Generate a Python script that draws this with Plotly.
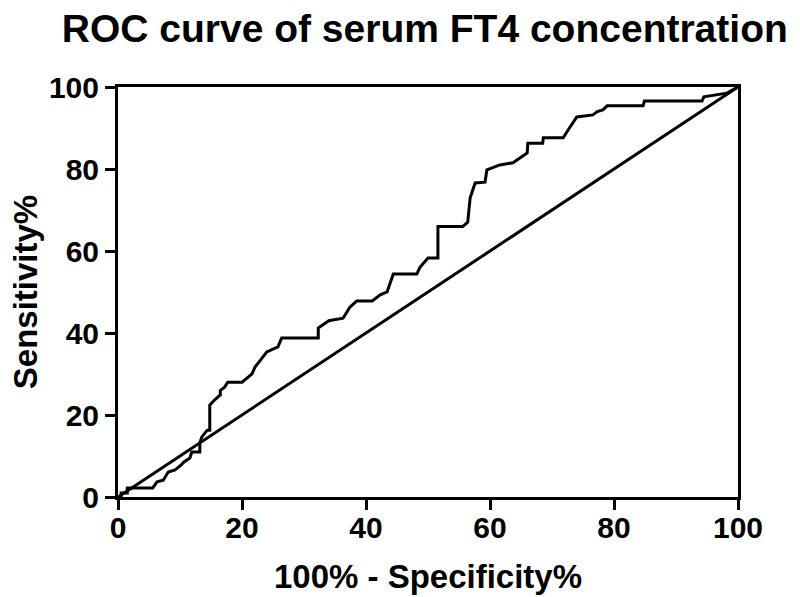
import plotly.graph_objects as go

# ROC points (100% - specificity, sensitivity)
fpr = [0, 0.5, 0.5, 1.5, 1.5, 2.8, 5.6, 6.3, 7.3, 8.1, 9.2, 10.2, 10.6, 11.6, 11.9,
       13.2, 13.2, 13.5, 14.0, 14.4, 14.8, 14.8, 15.6, 16.5, 16.5, 17.2, 17.7,
       20.0, 20.8, 21.6, 22.1, 22.6, 24.0, 25.8, 26.4, 32.3, 32.3, 34.0, 36.3, 37.4,
       38.5, 41.0, 42.3, 43.4, 43.9, 44.4, 48.2, 48.7, 50.0, 51.6, 51.6, 55.6, 56.4,
       56.8, 57.6, 59.2, 59.5, 61.6, 63.7, 64.8, 66.0, 66.1, 68.5, 68.6, 71.8, 72.6,
       73.4, 74.0, 76.6, 77.3, 78.2, 78.9, 84.7, 84.9, 94.2, 94.5, 98.2, 100]
tpr = [0, 0, 1.0, 1.0, 2.2, 2.2, 2.2, 3.7, 4.1, 6.1, 6.6, 7.8, 8.5, 9.5, 11.0,
       11.0, 13.2, 14.6, 15.6, 16.3, 16.3, 22.4, 23.7, 24.9, 26.0, 26.8, 28.0,
       28.0, 29.0, 30.0, 31.7, 32.7, 35.4, 36.6, 38.8, 38.8, 41.2, 43.0, 43.6, 46.3,
       47.8, 47.8, 49.3, 50.0, 52.2, 54.4, 54.4, 56.0, 58.3, 58.3, 66.0, 66.0, 67.0,
       73.0, 76.6, 76.8, 79.8, 81.0, 81.5, 82.7, 83.9, 86.3, 86.3, 87.6, 87.6, 89.5,
       91.2, 92.7, 93.2, 94.0, 94.4, 95.4, 95.4, 96.6, 96.6, 97.6, 98.5, 100]

ref_x = [0, 100]
ref_y = [0, 100]

tick_vals = [0, 20, 40, 60, 80, 100]

FONT = "Liberation Sans, Arial, sans-serif"

fig = go.Figure()
fig.add_trace(go.Scatter(x=fpr, y=tpr, mode="lines",
                         line=dict(color="black", width=3), showlegend=False))
fig.add_trace(go.Scatter(x=ref_x, y=ref_y, mode="lines",
                         line=dict(color="black", width=3), showlegend=False))

axis_style = dict(
    range=[0, 100], tickvals=tick_vals, ticks="outside", ticklen=10, tickwidth=3,
    tickcolor="black", showline=True, linewidth=3, linecolor="black",
    mirror=True, showgrid=False, zeroline=False, automargin=False,
    tickfont=dict(family=FONT, size=30, color="black", weight="bold"),
)

fig.update_layout(
    width=800, height=597,
    paper_bgcolor="white", plot_bgcolor="white",
    margin=dict(l=118, r=62, t=87, b=100),
    title=dict(text="ROC curve of serum FT4 concentration",
               font=dict(family=FONT, size=39, color="black", weight="bold"),
               x=0.531, xanchor="center", y=0.976, yanchor="top"),
    xaxis=dict(axis_style, ticklabelstandoff=-8,
               title=dict(text="100% - Specificity%", standoff=22,
               font=dict(family=FONT, size=33, color="black", weight="bold"))),
    yaxis=dict(axis_style,
               title=dict(text="Sensitivity%", standoff=2,
               font=dict(family=FONT, size=33, color="black", weight="bold"))),
)

# drop the default 8px page margin so the 800x597 figure fits the window exactly
fig.write_html("out.html", config={"displayModeBar": False},
               post_script="document.body.style.margin = '0';")
